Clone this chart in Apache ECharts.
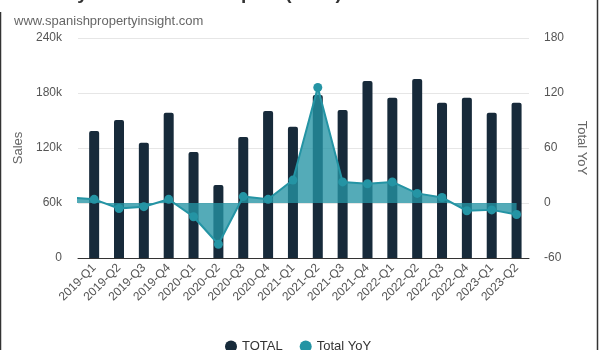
<!DOCTYPE html>
<html>
<head>
<meta charset="utf-8">
<script src="https://cdn.jsdelivr.net/npm/echarts@6/dist/echarts.min.js"></script>
<style>
  html, body { margin: 0; padding: 0; background: #fff; }
  #chart { width: 600px; height: 350px; }
</style>
</head>
<body>
<div id="chart"></div>
<script>
// Quarterly home sales (left axis) and year-on-year change in % (right axis)
const quarters = ['2019-Q1','2019-Q2','2019-Q3','2019-Q4','2020-Q1','2020-Q2','2020-Q3','2020-Q4',
  '2021-Q1','2021-Q2','2021-Q3','2021-Q4','2022-Q1','2022-Q2','2022-Q3','2022-Q4','2023-Q1','2023-Q2'];
const totalSales = [138500, 150500, 125800, 158500, 115600, 79600, 132000, 160400,
  143300, 177800, 161500, 193000, 174900, 195300, 169500, 174900, 158500, 169500];
const totalYoY = [4, -6, -4, 4, -15, -45, 7, 4, 25, 126, 23, 21, 23, 10.5, 6, -8.5, -7.5, -12.5];
// 2018-Q4 change, only used so the line runs in from the left edge
const yoyPrevQuarter = 6;
const salesTicks = [0, 60000, 120000, 180000, 240000];
const yoyTicks = [-60, 0, 60, 120, 180];

const barColor = '#172a3a';
const lineColor = '#2494a4';
const textColor = '#666';
const font = 'Liberation Sans, Arial, sans-serif';

const chart = echarts.init(document.getElementById('chart'));
const idx = quarters.map((_, i) => i);

chart.setOption({
  animation: false,
  backgroundColor: '#fff',
  textStyle: { fontFamily: font },
  title: [
    {
      text: 'Monthly Home Sales in Spain (Total)',
      left: 10, top: -21,
      textStyle: { fontSize: 19, fontWeight: 'bold', color: '#333', fontFamily: font }
    },
    {
      text: 'www.spanishpropertyinsight.com',
      left: 9, top: 10,
      textStyle: { fontSize: 13, fontWeight: 'normal', color: textColor, fontFamily: font }
    }
  ],
  graphic: [
    { type: 'line', shape: { x1: 0.5, y1: 12, x2: 0.5, y2: 350 }, style: { stroke: '#333', lineWidth: 1.5 }, silent: true },
    { type: 'line', shape: { x1: 597.5, y1: 0, x2: 597.5, y2: 350 }, style: { stroke: '#333', lineWidth: 1.5 }, silent: true }
  ],
  legend: {
    left: 220, top: 335,
    itemWidth: 12, itemHeight: 12, itemGap: 17,
    icon: 'circle',
    textStyle: { fontSize: 13, color: '#333', fontFamily: font },
    data: ['TOTAL', 'Total YoY']
  },
  grid: { left: 78, right: 71, top: 38, bottom: 92, containLabel: false },
  xAxis: {
    type: 'value',
    min: -0.65, max: 17.5,
    axisLine: { show: true, onZero: false, lineStyle: { color: '#333', width: 1 } },
    axisTick: { show: false },
    splitLine: { show: false },
    axisLabel: {
      customValues: idx,
      rotate: 45,
      margin: 8,
      fontSize: 12,
      color: '#555',
      formatter: v => quarters[Math.round(v)]
    }
  },
  yAxis: [
    {
      type: 'value',
      min: salesTicks[0], max: salesTicks[salesTicks.length - 1], interval: 60000,
      name: 'Sales', nameLocation: 'middle', nameGap: 49,
      nameTextStyle: { color: textColor, fontSize: 13 },
      axisLine: { show: false }, axisTick: { show: false },
      splitLine: { lineStyle: { color: '#e6e6e6' } },
      axisLabel: { margin: 16, fontSize: 12, color: '#555', formatter: v => v === 0 ? '0' : (v / 1000) + 'k' }
    },
    {
      type: 'value',
      min: yoyTicks[0], max: yoyTicks[yoyTicks.length - 1], interval: 60,
      name: 'Total YoY', nameLocation: 'middle', nameGap: 41, nameRotate: -90,
      nameTextStyle: { color: textColor, fontSize: 13 },
      axisLine: { show: false }, axisTick: { show: false },
      splitLine: { show: false },
      axisLabel: { margin: 15, fontSize: 12, color: '#555' }
    }
  ],
  series: [
    {
      name: 'TOTAL',
      type: 'bar',
      yAxisIndex: 0,
      barWidth: 10,
      itemStyle: { color: barColor, borderRadius: [2, 2, 0, 0] },
      data: totalSales.map((v, i) => [i, v])
    },
    {
      name: 'Total YoY',
      type: 'line',
      yAxisIndex: 1,
      clip: true,
      symbol: 'circle',
      symbolSize: 9,
      lineStyle: { color: lineColor, width: 2 },
      itemStyle: { color: lineColor },
      areaStyle: { color: lineColor, opacity: 0.78, origin: 'auto' },
      data: [{ value: [-1, yoyPrevQuarter], symbol: 'none' }]
        .concat(totalYoY.map((v, i) => [i, v]))
    }
  ]
});
</script>
</body>
</html>
